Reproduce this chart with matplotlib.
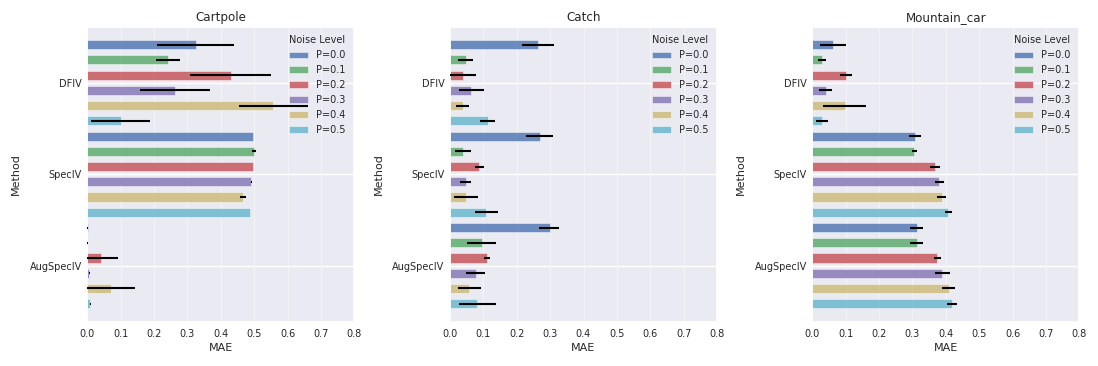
import matplotlib
matplotlib.use("Agg")
import matplotlib.pyplot as plt
import numpy as np
import seaborn as sns

methods = ["DFIV", "SpecIV", "AugSpecIV"]
noise_levels = ["P=0.0", "P=0.1", "P=0.2", "P=0.3", "P=0.4", "P=0.5"]
envs = ["Cartpole", "Catch", "Mountain_car"]

# MAE per method (rows) and noise level (columns), with error bar low / high ends
cartpole_mae = [[0.325, 0.242, 0.430, 0.262, 0.557, 0.101],
                [0.496, 0.499, 0.496, 0.491, 0.467, 0.487],
                [0.001, 0.0005, 0.042, 0.006, 0.071, 0.009]]
cartpole_lo = [[0.209, 0.205, 0.309, 0.157, 0.454, 0.011],
               [0.495, 0.494, 0.495, 0.490, 0.458, 0.486],
               [0.0, 0.0, 0.0, 0.004, 0.0, 0.007]]
cartpole_hi = [[0.441, 0.278, 0.550, 0.368, 0.660, 0.189],
               [0.497, 0.504, 0.497, 0.492, 0.475, 0.488],
               [0.002, 0.001, 0.093, 0.008, 0.144, 0.011]]

catch_mae = [[0.264, 0.047, 0.040, 0.064, 0.038, 0.114],
             [0.270, 0.040, 0.088, 0.047, 0.049, 0.109],
             [0.299, 0.095, 0.112, 0.077, 0.058, 0.082]]
catch_lo = [[0.216, 0.024, 0.0, 0.026, 0.017, 0.091],
            [0.229, 0.016, 0.075, 0.029, 0.012, 0.075],
            [0.268, 0.052, 0.102, 0.048, 0.023, 0.026]]
catch_hi = [[0.311, 0.068, 0.079, 0.101, 0.058, 0.134],
            [0.310, 0.064, 0.101, 0.062, 0.085, 0.143],
            [0.328, 0.137, 0.120, 0.104, 0.092, 0.138]]

mcar_mae = [[0.063, 0.029, 0.101, 0.040, 0.097, 0.029],
            [0.308, 0.306, 0.369, 0.381, 0.388, 0.408],
            [0.314, 0.314, 0.375, 0.390, 0.410, 0.420]]
mcar_lo = [[0.023, 0.016, 0.084, 0.020, 0.033, 0.011],
           [0.290, 0.298, 0.353, 0.368, 0.375, 0.397],
           [0.293, 0.294, 0.365, 0.368, 0.390, 0.404]]
mcar_hi = [[0.102, 0.041, 0.119, 0.058, 0.161, 0.047],
           [0.327, 0.314, 0.384, 0.394, 0.400, 0.419],
           [0.333, 0.333, 0.385, 0.412, 0.429, 0.435]]

all_mae = [cartpole_mae, catch_mae, mcar_mae]
all_lo = [cartpole_lo, catch_lo, mcar_lo]
all_hi = [cartpole_hi, catch_hi, mcar_hi]

sns.set_theme(style="darkgrid")
plt.rcParams['font.family'] = ['DejaVu Sans']
# old seaborn "deep" palette
colors = ["#4C72B0", "#55A868", "#C44E52", "#8172B2", "#CCB974", "#64B5CD"]

fig = plt.figure(figsize=(10.98, 3.66), dpi=100)
lefts = [87.3, 450.0, 812.3]
n_hue = len(noise_levels)
slot = 1.0 / n_hue

for i, env in enumerate(envs):
    ax = fig.add_axes([lefts[i] / 1098, 44.3 / 366, 267 / 1098, 295 / 366])
    mae = np.array(all_mae[i])
    lo = np.array(all_lo[i])
    hi = np.array(all_hi[i])
    base = np.arange(len(methods))
    for k in range(n_hue):
        pos = base + (k - (n_hue - 1) / 2) * slot
        ax.barh(pos, mae[:, k], height=0.1, color=colors[k], alpha=0.8,
                edgecolor="white", linewidth=0.4, label=noise_levels[k], zorder=2)
        ax.errorbar(mae[:, k], pos, xerr=[mae[:, k] - lo[:, k], hi[:, k] - mae[:, k]],
                    fmt="none", ecolor="black", elinewidth=1.5, capsize=0, zorder=3)
    ax.set_xlim(0, 0.8)
    ax.set_yticks(base)
    ax.set_yticklabels(methods)
    ax.invert_yaxis()
    ax.set_xticks(np.arange(0, 0.81, 0.1))
    ax.set_xticklabels(["%.1f" % t for t in np.arange(0, 0.81, 0.1)])
    ax.tick_params(axis="x", labelsize=7, length=0, pad=5)
    ax.tick_params(axis="y", labelsize=7, length=0, pad=4)
    ax.grid(axis="x", alpha=0.5, linewidth=0.8)
    ax.grid(axis="y", linewidth=1.0)
    ax.set_title(env, fontsize=8.6, pad=4)
    ax.set_xlabel("MAE", fontsize=8, labelpad=3)
    ax.set_ylabel("Method", fontsize=8, labelpad=6)
    leg = ax.legend(title="Noise Level", loc="upper right", fontsize=7,
                    title_fontsize=7, frameon=False)

fig.savefig("out.png", dpi=100)
